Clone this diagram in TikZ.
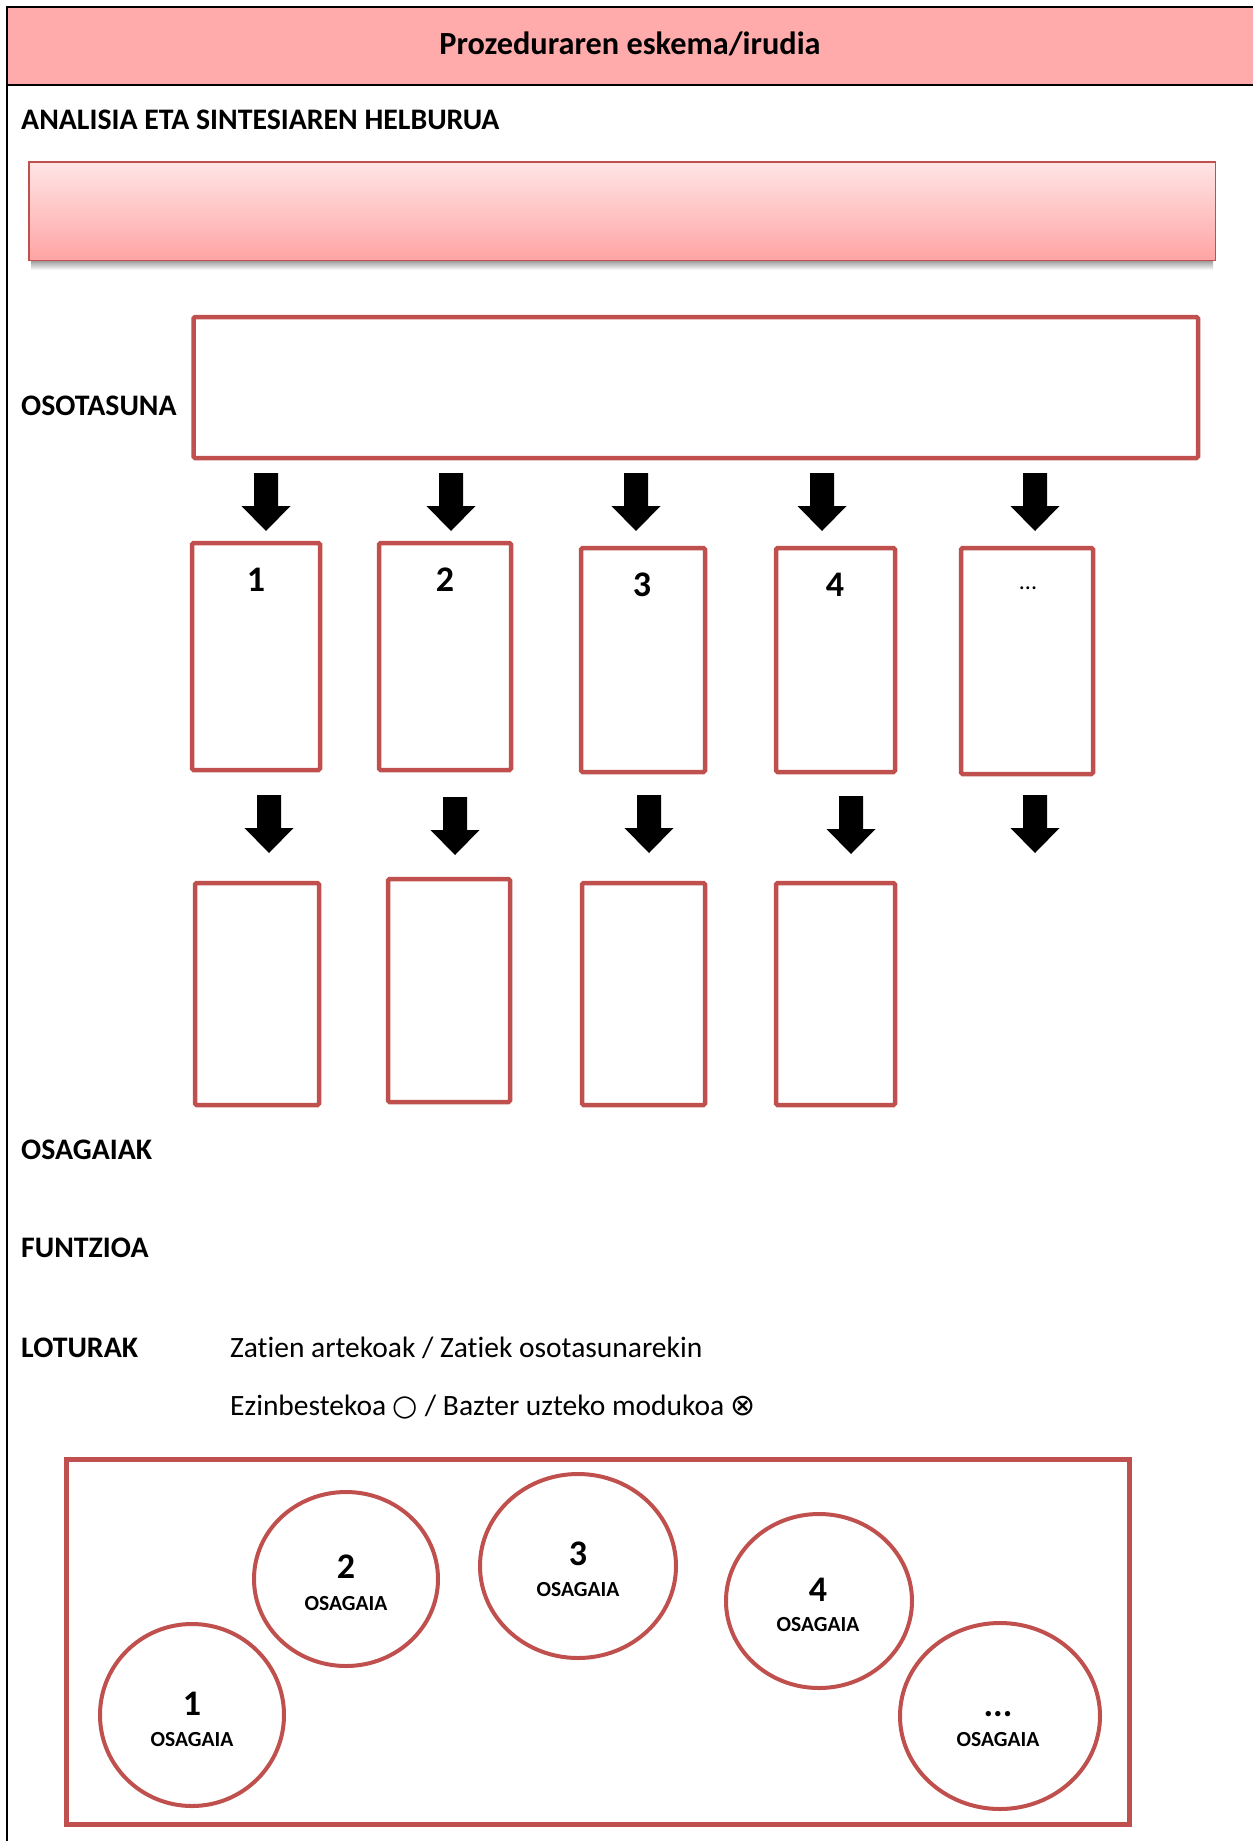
\documentclass[tikz,border=0pt]{standalone}
\usepackage{fontspec}
\setmainfont[Ligatures=NoCommon]{Carlito}
\newfontfamily\symfont{DejaVu Sans}
\usetikzlibrary{shapes.geometric}
\definecolor{boxred}{HTML}{C0504D}
\definecolor{headpink}{HTML}{FFABAB}
\definecolor{gradtop}{HTML}{FFE5E5}
\definecolor{gradbot}{HTML}{FFA4A4}
\tikzset{
  rbox/.style={draw=boxred, line width=4.5pt, rounded corners=1.5pt, rectangle, inner sep=0pt},
  rell/.style={draw=boxred, line width=4pt, ellipse, inner sep=0pt},
  lbl/.style={font=\fontsize{29.8}{34}\selectfont\bfseries, anchor=base west, inner sep=0pt},
  txt/.style={font=\fontsize{29.5}{34}\selectfont, anchor=base west, inner sep=0pt},
  num/.style={font=\fontsize{36}{40}\selectfont\bfseries, anchor=base, inner sep=0pt},
  osa/.style={font=\fontsize{21.5}{24}\selectfont\bfseries, anchor=base, inner sep=0pt},
  blockarrow/.pic={\fill[black] (-12,0) -- (12,0) -- (12,33) -- (24.5,33) -- (0,58) -- (-24.5,33) -- (-12,33) -- cycle;}
}
\begin{document}
\begin{tikzpicture}[x=1pt,y=-1pt]
\useasboundingbox (0,0) rectangle (1253,1841);
\fill[white] (0,0) rectangle (1253,1841);
% header band
\fill[headpink] (7,7) rectangle (1253,84.7);
\draw[line width=2pt] (1253,6.7) -- (7,6.7);
\draw[line width=2pt] (7,84.7) -- (1253,84.7);
\draw[line width=1.8pt] (7,5.7) -- (7,1841);
\node[font=\fontsize{32.3}{36}\selectfont\bfseries, anchor=base, inner sep=0pt] (title) at (630,55) {Prozeduraren eskema/irudia};
% purpose
\node[lbl] (helb) at (21,130) {ANALISIA ETA SINTESIAREN HELBURUA};
\shade[top color=gray!75, bottom color=white] (31,261) rectangle (1213,270);
\node[draw=boxred, line width=1.5pt, top color=gradtop, bottom color=gradbot, minimum width=1186.5pt, minimum height=98.5pt, inner sep=0pt] (purpose) at (622,211) {};
% whole
\node[lbl] (osolbl) at (21,415.5) {OSOTASUNA};
\node[rbox, minimum width=1004.5pt, minimum height=141pt] (whole) at (695.75,387.5) {};
% first arrows
\pic at (266,473) {blockarrow};
\pic at (451,473) {blockarrow};
\pic at (636,473) {blockarrow};
\pic at (822,473) {blockarrow};
\pic at (1035,473) {blockarrow};
% parts row 1
\node[rbox, minimum width=128pt, minimum height=227pt] (b1) at (256,656.5) {};
\node[rbox, minimum width=132pt, minimum height=227pt] (b2) at (445,656.5) {};
\node[rbox, minimum width=124pt, minimum height=224pt] (b3) at (643,660) {};
\node[rbox, minimum width=119pt, minimum height=224pt] (b4) at (835.5,660) {};
\node[rbox, minimum width=132pt, minimum height=226pt] (b5) at (1027,661) {};
\node[num] (n1) at (256,591) {1};
\node[num] (n2) at (445,591) {2};
\node[num] (n3) at (642,596) {3};
\node[num] (n4) at (835,596) {4};
\node[font=\fontsize{24}{28}\selectfont, anchor=base, inner sep=0pt] (n5) at (1028,589) {...};
% second arrows
\pic at (269,795) {blockarrow};
\pic at (455,797) {blockarrow};
\pic at (649,795) {blockarrow};
\pic at (851,796) {blockarrow};
\pic at (1035,795) {blockarrow};
% parts row 2
\node[rbox, minimum width=124pt, minimum height=222pt] (c1) at (257,994) {};
\node[rbox, minimum width=122pt, minimum height=223pt] (c2) at (449,990.5) {};
\node[rbox, minimum width=123pt, minimum height=222pt] (c3) at (643.5,994) {};
\node[rbox, minimum width=119pt, minimum height=222pt] (c4) at (835.5,994) {};
% labels
\node[lbl] (osag) at (21,1159.5) {OSAGAIAK};
\node[lbl] (funtz) at (21,1257.5) {FUNTZIOA};
\node[lbl] (lotu) at (21,1357.5) {LOTURAK};
\node[txt] (zat) at (230,1357.5) {Zatien artekoak / Zatiek osotasunarekin};
\node[txt] (ezin) at (230,1415.5) {Ezinbestekoa {\symfont\fontsize{29}{34}\selectfont ○} / Bazter uzteko modukoa {\symfont\fontsize{30}{34}\selectfont ⊗}};
% bottom frame with components
\draw[boxred, line width=5pt] (66.5,1459.5) rectangle (1129.5,1824.5);
\node[rell, minimum width=184pt, minimum height=182pt] (e1) at (192,1715) {};
\node[rell, minimum width=184pt, minimum height=174pt] (e2) at (346,1579) {};
\node[rell, minimum width=196pt, minimum height=184pt] (e3) at (578,1566) {};
\node[rell, minimum width=186pt, minimum height=174pt] (e4) at (819,1601) {};
\node[rell, minimum width=200pt, minimum height=186pt] (e5) at (1000,1716) {};
\node[num] (k1) at (192,1715) {1};
\node[osa] (o1) at (192,1746) {OSAGAIA};
\node[num] (k2) at (346,1578) {2};
\node[osa] (o2) at (346,1610) {OSAGAIA};
\node[num] (k3) at (578,1565) {3};
\node[osa] (o3) at (578,1596) {OSAGAIA};
\node[num] (k4) at (818,1601) {4};
\node[osa] (o4) at (818,1631) {OSAGAIA};
\node[num] (k5) at (998,1716) {...};
\node[osa] (o5) at (998,1746) {OSAGAIA};
\end{tikzpicture}
\end{document}
